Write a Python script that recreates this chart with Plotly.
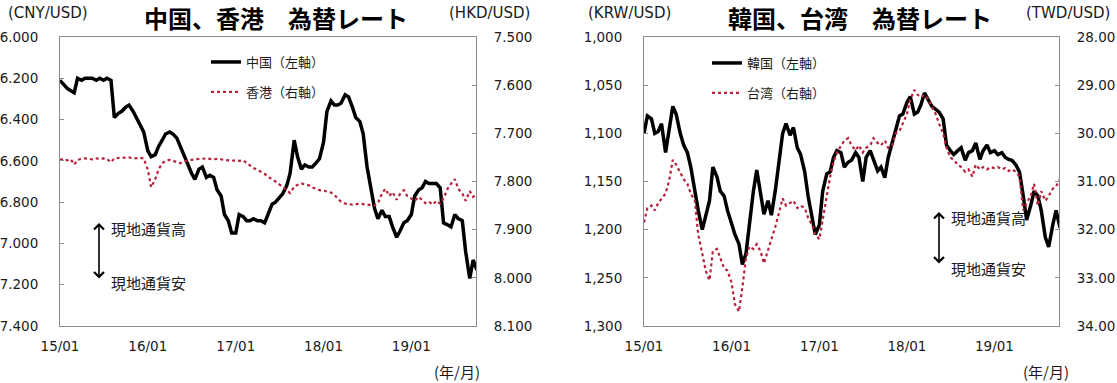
import plotly.graph_objects as go
import pandas as pd

# ---------------- data (semi-monthly readings, 1st & 15th) ----------------
dates = pd.date_range("2015-01-01", "2019-10-01", freq="SMS")

cny = [6.21, 6.23, 6.25, 6.26, 6.27, 6.20, 6.21, 6.20, 6.20, 6.20, 6.21, 6.20,
       6.21, 6.20, 6.21, 6.39, 6.37, 6.36, 6.34, 6.33, 6.36, 6.39, 6.43, 6.46,
       6.55, 6.58, 6.57, 6.53, 6.50, 6.47, 6.46, 6.47, 6.49, 6.53, 6.57, 6.62,
       6.66, 6.69, 6.64, 6.63, 6.68, 6.67, 6.68, 6.74, 6.77, 6.86, 6.89, 6.95,
       6.95, 6.86, 6.87, 6.89, 6.89, 6.88, 6.89, 6.89, 6.90, 6.86, 6.81, 6.80,
       6.78, 6.76, 6.72, 6.66, 6.50, 6.58, 6.64, 6.62, 6.63, 6.63, 6.61, 6.59,
       6.51, 6.36, 6.31, 6.33, 6.33, 6.32, 6.28, 6.29, 6.34, 6.39, 6.41, 6.47,
       6.63, 6.72, 6.83, 6.88, 6.84, 6.87, 6.87, 6.92, 6.97, 6.94, 6.90, 6.89,
       6.86, 6.77, 6.74, 6.73, 6.70, 6.71, 6.71, 6.71, 6.73, 6.90, 6.91, 6.92,
       6.86, 6.88, 6.89, 7.04, 7.17, 7.08, 7.13]

hkd = [7.755, 7.753, 7.756, 7.754, 7.765, 7.755, 7.753, 7.752, 7.753, 7.754, 7.752, 7.753,
       7.752, 7.753, 7.760, 7.752, 7.751, 7.750, 7.751, 7.750, 7.752, 7.751, 7.751, 7.752,
       7.775, 7.812, 7.795, 7.775, 7.762, 7.757, 7.755, 7.757, 7.760, 7.762, 7.758, 7.756,
       7.755, 7.754, 7.753, 7.753, 7.752, 7.753, 7.754, 7.753, 7.754, 7.755, 7.755, 7.757,
       7.756, 7.757, 7.756, 7.762, 7.768, 7.772, 7.776, 7.780, 7.784, 7.790, 7.795, 7.800,
       7.806, 7.811, 7.818, 7.824, 7.811, 7.807, 7.804, 7.806, 7.808, 7.812, 7.815, 7.818,
       7.819, 7.821, 7.823, 7.828, 7.836, 7.842, 7.846, 7.847, 7.848, 7.847, 7.846, 7.847,
       7.848, 7.849, 7.850, 7.845, 7.825, 7.815, 7.830, 7.822, 7.838, 7.826, 7.818, 7.830,
       7.835, 7.840, 7.832, 7.838, 7.845, 7.842, 7.848, 7.840, 7.846, 7.835, 7.815, 7.805,
       7.795, 7.815, 7.825, 7.840, 7.820, 7.832, 7.825]

krw = [1100, 1082, 1085, 1100, 1098, 1090, 1120, 1095, 1072, 1080, 1100, 1112,
       1120, 1135, 1163, 1180, 1200, 1185, 1170, 1135, 1145, 1160, 1165, 1180,
       1195, 1205, 1215, 1236, 1225, 1195, 1160, 1138, 1160, 1184, 1170, 1185,
       1160, 1135, 1100, 1090, 1102, 1094, 1115, 1122, 1140, 1165, 1185, 1205,
       1195, 1160, 1142, 1140, 1125, 1118, 1120, 1135, 1130, 1128, 1120, 1125,
       1150, 1125, 1118, 1128, 1139, 1135, 1146, 1125, 1110, 1095, 1082, 1080,
       1068, 1062, 1080, 1078, 1070, 1058, 1065, 1072, 1075, 1078, 1085, 1112,
       1118, 1122, 1118, 1115, 1128, 1120, 1118, 1110, 1127, 1118, 1112, 1120,
       1118, 1122, 1120, 1125, 1127, 1128, 1133, 1140, 1165, 1190, 1175, 1160,
       1165, 1180, 1208, 1218, 1195, 1180, 1198]

twd = [31.85, 31.55, 31.50, 31.60, 31.45, 31.35, 31.25, 31.00, 30.55, 30.65, 30.80, 30.95,
       31.05, 31.25, 31.40, 32.10, 32.50, 32.85, 33.05, 32.45, 32.40, 32.60, 32.80, 32.85,
       33.10, 33.55, 33.70, 33.20, 32.60, 32.35, 32.40, 32.30, 32.45, 32.70, 32.40, 32.20,
       31.95, 31.70, 31.35, 31.50, 31.45, 31.40, 31.55, 31.50, 31.55, 31.75, 31.90, 32.10,
       32.20, 31.75, 31.30, 30.90, 30.60, 30.40, 30.25, 30.15, 30.10, 30.25, 30.35, 30.25,
       30.40, 30.30, 30.25, 30.10, 30.20, 30.25, 30.15, 30.30, 30.25, 30.00, 29.95, 29.80,
       29.60, 29.30, 29.10, 29.20, 29.25, 29.20, 29.30, 29.45, 29.60, 29.80, 30.00, 30.30,
       30.50, 30.55, 30.65, 30.70, 30.80, 30.75, 30.90, 30.65, 30.75, 30.70, 30.75, 30.70,
       30.72, 30.70, 30.75, 30.72, 30.78, 30.75, 30.80, 30.90, 31.60, 31.45, 31.30, 31.05,
       31.50, 31.20, 31.40, 31.30, 31.15, 31.10, 30.95]

x_tickvals = ["2015-01-01", "2016-01-01", "2017-01-01", "2018-01-01", "2019-01-01"]
x_ticktext = ["15/01", "16/01", "17/01", "18/01", "19/01"]

# ---------------- style ----------------
W, H = 1117, 383
FONT = "DejaVu Sans, Noto Sans CJK JP, sans-serif"
JFONT = "Noto Sans CJK JP, DejaVu Sans, sans-serif"
BLACK = "#000000"
RED = "#B8203C"
AXC = "#8C8C8C"
TXT = "#1a1a1a"

def px_x(p):
    return p / W

def px_y(p):
    return 1 - p / H

fig = go.Figure()
fig.add_trace(go.Scatter(x=dates, y=cny, name="中国（左軸）", mode="lines",
                         line=dict(color=BLACK, width=3.5), xaxis="x", yaxis="y",
                         legend="legend", legendgroup="a"))
fig.add_trace(go.Scatter(x=dates, y=hkd, name="香港（右軸）", mode="lines",
                         line=dict(color=RED, width=2.2, dash="dot"), xaxis="x", yaxis="y2",
                         legend="legend", legendgroup="b"))
fig.add_trace(go.Scatter(x=dates, y=krw, name="韓国（左軸）", mode="lines",
                         line=dict(color=BLACK, width=3.5), xaxis="x2", yaxis="y3",
                         legend="legend2", legendgroup="c"))
fig.add_trace(go.Scatter(x=dates, y=twd, name="台湾（右軸）", mode="lines",
                         line=dict(color=RED, width=2.2, dash="dot"), xaxis="x2", yaxis="y4",
                         legend="legend2", legendgroup="d"))

ydom = [px_y(326), px_y(37)]
xr = ["2015-01-01", "2019-09-27"]
tf = dict(family=FONT, size=13.5, color=TXT)

common_x = dict(type="date", range=xr, tickvals=x_tickvals, ticktext=x_ticktext,
                showline=True, linecolor=AXC, linewidth=1, mirror=True, ticks="",
                showgrid=False, zeroline=False, tickfont=tf, ticklabelstandoff=8,
                automargin=False)
common_y = dict(showline=True, linecolor=AXC, linewidth=1, ticks="inside", ticklen=4,
                tickcolor=AXC, showgrid=False, zeroline=False, tickfont=tf,
                automargin=False)

fig.update_layout(
    width=W, height=H, margin=dict(l=0, r=0, t=0, b=0, autoexpand=False),
    plot_bgcolor="white", paper_bgcolor="white", hovermode=False,
    xaxis=dict(domain=[px_x(60), px_x(476)], anchor="y", **common_x),
    yaxis=dict(domain=ydom, anchor="x", range=[7.4, 6.0], tick0=6.0, dtick=0.2,
               tickformat=".3f", ticklabelstandoff=18, **common_y),
    yaxis2=dict(overlaying="y", side="right", anchor="x", range=[8.1, 7.5], tick0=7.5,
                dtick=0.1, tickformat=".3f", ticklabelstandoff=14, **common_y),
    xaxis2=dict(domain=[px_x(644), px_x(1059)], anchor="y3", **common_x),
    yaxis3=dict(domain=ydom, anchor="x2", range=[1300, 1000], tick0=1000, dtick=50,
                tickformat=",d", ticklabelstandoff=18, **common_y),
    yaxis4=dict(overlaying="y3", side="right", anchor="x2", range=[34, 28], tick0=28,
                dtick=1, tickformat=".2f", ticklabelstandoff=14, **common_y),
    legend=dict(x=px_x(206), y=px_y(47), xanchor="left", yanchor="top",
                bgcolor="rgba(0,0,0,0)", font=dict(family=JFONT, size=13, color=TXT),
                traceorder="grouped", tracegroupgap=10, itemwidth=30),
    legend2=dict(x=px_x(707), y=px_y(48), xanchor="left", yanchor="top",
                 bgcolor="rgba(0,0,0,0)", font=dict(family=JFONT, size=13, color=TXT),
                 traceorder="grouped", tracegroupgap=10, itemwidth=30),
)

ann = []
def text(x, y, s, size=13, xanchor="center", bold=False, family=JFONT):
    ann.append(dict(x=px_x(x), y=px_y(y), xref="paper", yref="paper", text=(f"<b>{s}</b>" if bold else s),
                    showarrow=False, xanchor=xanchor, yanchor="middle",
                    font=dict(family=family, size=size, color="#000" if bold else TXT)))

text(276, 17, "中国、香港　為替レート", size=24, bold=True)
text(860, 17, "韓国、台湾　為替レート", size=24, bold=True)
text(48, 13, "(CNY/USD)", size=15, family=FONT)
text(489, 13, "(HKD/USD)", size=15, family=FONT)
text(629, 13, "(KRW/USD)", size=15, family=FONT)
text(1068, 13, "(TWD/USD)", size=15, family=FONT)
text(457, 371, "(年/月)", size=15)
text(1046, 371, "(年/月)", size=15)
text(109, 228, "現地通貨高", size=15, xanchor="left")
text(109, 282, "現地通貨安", size=15, xanchor="left")
text(949, 217, "現地通貨高", size=15, xanchor="left")
text(949, 268, "現地通貨安", size=15, xanchor="left")

for (ax_x, top, bot) in [(99, 223, 280), (939, 212, 265)]:
    ann.append(dict(x=px_x(ax_x), y=px_y(top), xref="paper", yref="paper", text="",
                    showarrow=True, ax=0, ay=bot - top, arrowside="end+start",
                    arrowhead=4, startarrowhead=4, arrowsize=1.2, startarrowsize=1.2,
                    arrowwidth=1.6, arrowcolor="#000"))

fig.update_layout(annotations=ann)

# page without the default body margin so the 1117x383 figure fills the window exactly
page_js = ("document.documentElement.style.margin='0';document.documentElement.style.padding='0';"
           "document.body.style.margin='0';document.body.style.padding='0';"
           "document.body.style.overflow='hidden';document.documentElement.style.overflow='hidden';")
fig.write_html("out.html", post_script=page_js, config={"displayModeBar": False})
